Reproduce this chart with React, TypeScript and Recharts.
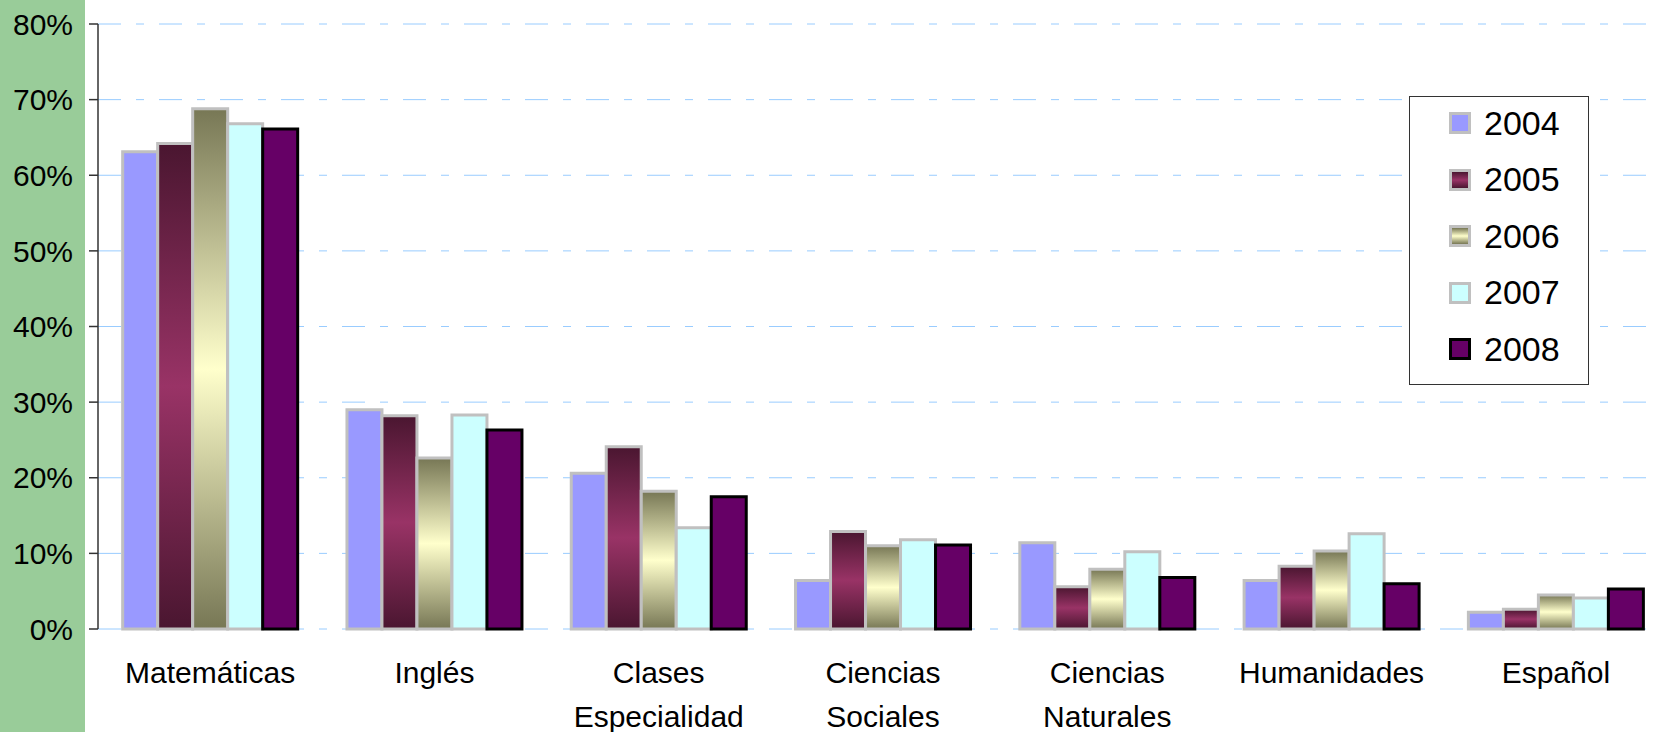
import { Bar, BarChart, CartesianGrid, Legend, XAxis, YAxis } from "recharts"

const categories = [
    "Matemáticas",
    "Inglés",
    "Clases\nEspecialidad",
    "Ciencias\nSociales",
    "Ciencias\nNaturales",
    "Humanidades",
    "Español",
]

const y2004 = [63.1, 29.0, 20.6, 6.4, 11.4, 6.4, 2.2]
const y2005 = [64.2, 28.2, 24.1, 12.9, 5.6, 8.3, 2.6]
const y2006 = [68.8, 22.6, 18.2, 11.0, 7.9, 10.3, 4.5]
const y2007 = [66.8, 28.3, 13.4, 11.8, 10.2, 12.6, 4.1]
const y2008 = [66.1, 26.3, 17.5, 11.1, 6.8, 6.0, 5.3]

const yTicks = [0, 10, 20, 30, 40, 50, 60, 70, 80]

const data = categories.map((name, i) => ({
    name,
    y2004: y2004[i],
    y2005: y2005[i],
    y2006: y2006[i],
    y2007: y2007[i],
    y2008: y2008[i],
}))

const FONT = "'Liberation Sans', Arial, sans-serif"

const series = [
    { key: "y2004", label: "2004", fill: "#9999FF", css: "#9999FF", stroke: "#C0C0C0" },
    {
        key: "y2005",
        label: "2005",
        fill: "url(#g2005)",
        css: "linear-gradient(#4A1630, #993366, #4A1630)",
        stroke: "#C0C0C0",
    },
    {
        key: "y2006",
        label: "2006",
        fill: "url(#g2006)",
        css: "linear-gradient(#777755, #FFFFCC, #777755)",
        stroke: "#C0C0C0",
    },
    { key: "y2007", label: "2007", fill: "#CCFFFF", css: "#CCFFFF", stroke: "#C0C0C0" },
    { key: "y2008", label: "2008", fill: "#660066", css: "#660066", stroke: "#000000" },
]

function CategoryTick(props: any) {
    const { x, y, payload } = props
    const lines = String(payload.value).split("\n")
    return (
        <text x={x} y={y} textAnchor="middle" fontSize={30} fill="#000" fontFamily={FONT}>
            {lines.map((line, i) => (
                <tspan key={i} x={x} dy={i === 0 ? 54 : 43.5}>
                    {line}
                </tspan>
            ))}
        </text>
    )
}

function LegendBox() {
    return (
        <div
            style={{
                width: 180,
                height: 289,
                boxSizing: "border-box",
                border: "1.5px solid #333",
                background: "#fff",
                fontFamily: FONT,
            }}
        >
            <div style={{ marginTop: -2 }}>
                {series.map((s) => (
                    <div key={s.key} style={{ display: "flex", alignItems: "center", height: 56.5 }}>
                        <div
                            style={{
                                marginLeft: 39,
                                width: 22,
                                height: 22,
                                boxSizing: "border-box",
                                border: `3px solid ${s.stroke}`,
                                background: s.css,
                            }}
                        />
                        <span style={{ marginLeft: 13, fontSize: 34, color: "#000" }}>{s.label}</span>
                    </div>
                ))}
            </div>
        </div>
    )
}

export default function App() {
    return (
        <div
            style={{
                position: "absolute",
                left: 0,
                top: 0,
                width: 1657,
                height: 732,
                overflow: "hidden",
                background: "#fff",
            }}
        >
            <div style={{ position: "absolute", left: 0, top: 0, width: 85, height: 732, background: "#99CC99" }} />
            <div style={{ position: "absolute", left: 0, top: 0 }}>
                <BarChart
                    width={1668}
                    height={732}
                    data={data}
                    margin={{ top: 24, right: 0, bottom: 0, left: 0 }}
                    barCategoryGap="11%"
                    barGap={0}
                >
                    <defs>
                        <linearGradient id="g2005" x1="0" y1="0" x2="0" y2="1">
                            <stop offset="0%" stopColor="#4A1630" />
                            <stop offset="50%" stopColor="#993366" />
                            <stop offset="100%" stopColor="#4A1630" />
                        </linearGradient>
                        <linearGradient id="g2006" x1="0" y1="0" x2="0" y2="1">
                            <stop offset="0%" stopColor="#777755" />
                            <stop offset="50%" stopColor="#FFFFCC" />
                            <stop offset="100%" stopColor="#777755" />
                        </linearGradient>
                    </defs>
                    <CartesianGrid vertical={false} stroke="#99CCFF" strokeDasharray="23 15 8 15" />
                    <XAxis
                        dataKey="name"
                        height={103}
                        axisLine={false}
                        tickLine={false}
                        tickSize={0}
                        tickMargin={0}
                        interval={0}
                        tick={<CategoryTick />}
                    />
                    <YAxis
                        width={98}
                        domain={[0, 80]}
                        ticks={yTicks}
                        tickFormatter={(v) => `${v}%`}
                        tick={{ fontSize: 30, fill: "#000", fontFamily: FONT }}
                        tickSize={9}
                        tickMargin={16}
                        axisLine={{ stroke: "#333", strokeWidth: 1.5 }}
                        tickLine={{ stroke: "#333", strokeWidth: 1.5 }}
                    />
                    <Legend
                        layout="vertical"
                        align="center"
                        verticalAlign="middle"
                        wrapperStyle={{ left: 1409, top: 96, width: 180, height: 289 }}
                        content={() => <LegendBox />}
                    />
                    {series.map((s) => (
                        <Bar
                            key={s.key}
                            dataKey={s.key}
                            name={s.label}
                            fill={s.fill}
                            stroke={s.stroke}
                            strokeWidth={3}
                            isAnimationActive={false}
                        />
                    ))}
                </BarChart>
            </div>
        </div>
    )
}
